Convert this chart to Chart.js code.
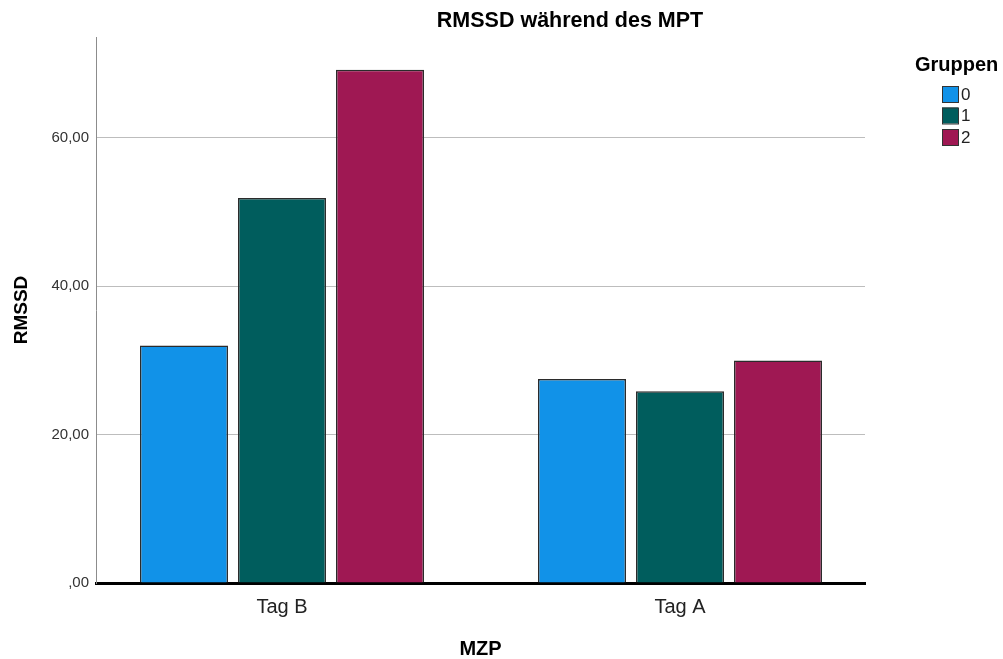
<!DOCTYPE html>
<html>
<head>
<meta charset="utf-8">
<title>RMSSD während des MPT</title>
<script src="https://cdn.jsdelivr.net/npm/chart.js@4.4.1/dist/chart.umd.min.js"></script>
<style>
    html, body { margin: 0; padding: 0; background: #fff; }
    .chart-box { width: 1003px; height: 659px; position: relative; }
</style>
</head>
<body>
<div class="chart-box"><canvas id="rmssdChart"></canvas></div>
<script>
const categories = ['Tag B', 'Tag A'];
const groupLabels = ['0', '1', '2'];
const gruppe0 = [32.0, 27.5];
const gruppe1 = [51.9, 25.85];
const gruppe2 = [69.2, 30.0];
const yTicks = [0, 20, 40, 60];
const yMax = 73.6;
const groupColors = ['#1192e8', '#005d5d', '#9f1853'];

const FONT = '"Liberation Sans", Arial, sans-serif';

function formatKomma(value) {
    if (value === 0) return ',00';
    return value.toFixed(2).replace('.', ',');
}

// title + legend are drawn by hand so they land where SPSS puts them
const extraText = {
    id: 'extraText',
    afterDraw(chart) {
        const ctx = chart.ctx;
        ctx.save();
        ctx.fillStyle = '#000';
        ctx.textBaseline = 'middle';
        ctx.textAlign = 'center';
        ctx.font = 'bold 21.5px ' + FONT;
        ctx.fillText('RMSSD während des MPT', 570, 21);

        ctx.textAlign = 'left';
        ctx.font = 'bold 20px ' + FONT;
        ctx.fillText('Gruppen', 915, 65);

        ctx.font = '17px ' + FONT;
        chart.data.datasets.forEach(function (ds, i) {
            const y = 86 + i * 21.5;
            ctx.fillStyle = ds.backgroundColor;
            ctx.fillRect(942, y, 16, 16);
            ctx.strokeStyle = '#333';
            ctx.lineWidth = 1;
            ctx.strokeRect(942.5, y + 0.5, 16, 16);
            ctx.fillStyle = '#222';
            ctx.fillText(ds.label, 961, y + 9);
        });
        ctx.restore();
    }
};

function makeDataset(idx, values) {
    return {
        label: groupLabels[idx],
        data: values.map((v, i) => ({ x: i, y: v })),
        backgroundColor: groupColors[idx],
        borderColor: '#2b2b2b',
        borderWidth: 1.5,
        categoryPercentage: 0.7387,
        barPercentage: 0.898
    };
}

const ctx = document.getElementById('rmssdChart').getContext('2d');
new Chart(ctx, {
    type: 'bar',
    data: {
        datasets: [
            makeDataset(0, gruppe0),
            makeDataset(1, gruppe1),
            makeDataset(2, gruppe2)
        ]
    },
    options: {
        responsive: true,
        maintainAspectRatio: false,
        animation: false,
        layout: { padding: { left: 10, top: 37, right: 138, bottom: 0 } },
        plugins: {
            legend: { display: false },
            title: { display: false },
            tooltip: { enabled: false }
        },
        scales: {
            x: {
                type: 'linear',
                offset: false,
                min: -0.4673,
                max: 1.4648,
                afterBuildTicks: function (scale) {
                    scale.ticks = categories.map((c, i) => ({ value: i }));
                },
                afterFit: function (scale) { scale.height = 76; },
                grid: { display: false, drawTicks: false, offset: false },
                border: { display: true, color: '#000', width: 3 },
                ticks: {
                    padding: 12,
                    color: '#222',
                    font: { family: FONT, size: 20 },
                    callback: function (value) { return categories[value]; }
                },
                title: {
                    display: true,
                    text: 'MZP',
                    color: '#000',
                    font: { family: FONT, size: 20, weight: 'bold', lineHeight: 1.0 },
                    padding: { top: 0, bottom: 0 }
                }
            },
            y: {
                min: 0,
                max: yMax,
                afterBuildTicks: function (scale) {
                    scale.ticks = yTicks.map(v => ({ value: v }));
                },
                afterFit: function (scale) { scale.width = 86; },
                grid: { color: '#bdbdbd', lineWidth: 1, drawTicks: false },
                border: { color: '#8c8c8c', width: 1 },
                ticks: {
                    padding: 7,
                    color: '#333',
                    font: { family: FONT, size: 15 },
                    callback: function (value) { return formatKomma(value); }
                },
                title: {
                    display: true,
                    text: 'RMSSD',
                    color: '#000',
                    font: { family: FONT, size: 19, weight: 'bold' },
                    padding: { top: 0, bottom: 0 }
                }
            }
        }
    },
    plugins: [extraText]
});
</script>
</body>
</html>
